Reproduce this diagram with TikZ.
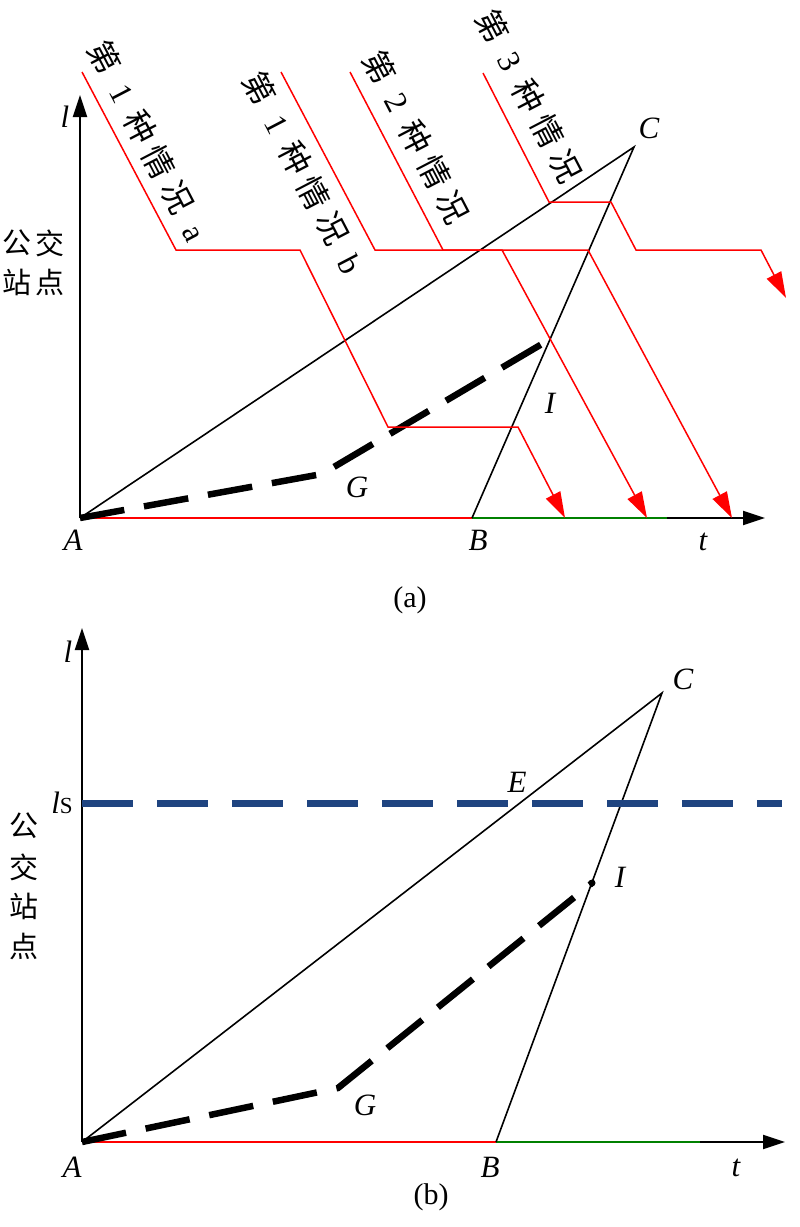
\documentclass[tikz,border=0pt]{standalone}
\usepackage{fontspec}
\setmainfont{Liberation Serif}
\newfontfamily\cjk{Noto Sans CJK SC}
\usetikzlibrary{arrows.meta}
\definecolor{navy}{RGB}{31,68,128}
\definecolor{grn}{RGB}{0,128,0}
\newcommand\cbx[1]{\makebox[39.5pt]{#1}}
\tikzset{
  axis/.style={line width=2pt,-{Triangle[length=22pt,width=14pt]}},
  thin/.style={line width=1.6pt,black},
  redl/.style={line width=1.5pt,red},
  redarr/.style={redl,-{Triangle[length=26pt,width=16pt]}},
  dashblk/.style={line width=6.5pt,dash pattern=on 45pt off 20pt},
  bluedash/.style={line width=7pt,navy,dash pattern=on 51pt off 24pt},
  lbl/.style={font=\fontsize{31}{31}\selectfont\itshape,inner sep=0pt},
  figcap/.style={font=\fontsize{30}{30}\selectfont,inner sep=0pt},
  cjkl/.style={font=\cjk\fontsize{29}{29}\selectfont,inner sep=0pt},
  rlab/.style={font=\fontsize{32}{32}\selectfont,inner sep=0pt,rotate=-62.5}
}
\begin{document}
\begin{tikzpicture}[x=1pt,y=-1pt]
\useasboundingbox (0,0) rectangle (800,1227);
% ---------------- (a) ----------------
\coordinate (Aa) at (80,518);
\coordinate (Ba) at (472,518);
\coordinate (Ca) at (634,147);
\coordinate (Ga) at (322,474);
\coordinate (Ia) at (547,341);
\coordinate (Ya) at (80,95);
\coordinate (Xa) at (765,518);
\coordinate (Ea) at (667,518);
\draw[axis] (Aa) -- (Ya);
\draw[axis] (Aa) -- (Xa);
\draw[line width=2pt,red] (Aa) -- (Ba);
\draw[line width=2pt,grn] (Ba) -- (Ea);
\draw[thin] (Aa) -- (Ca) -- (Ba);
\draw[dashblk] (Aa) -- (Ga) -- (Ia);
% red paths
\draw[redarr] (82,72) -- (176,250) -- (300,250) -- (388,427) -- (518,427) -- (565,518);
\draw[redarr] (281,72) -- (375,250) -- (502,250) -- (647,518);
\draw[redarr] (350,72) -- (443,250) -- (588,250) -- (732,518);
\draw[redarr] (483,73) -- (549,202) -- (611,202) -- (636,250) -- (761,250) -- (786,298);
% rotated labels
\node[rlab] (r1a) at (150,145) {\cbx{\cjk 第}\cbx{1}\cbx{\cjk 种}\cbx{\cjk 情}\cbx{\cjk 况}\cbx{a}};
\node[rlab] (r1b) at (305,176) {\cbx{\cjk 第}\cbx{1}\cbx{\cjk 种}\cbx{\cjk 情}\cbx{\cjk 况}\cbx{b}};
\node[rlab] (r2) at (416,137) {\cbx{\cjk 第}\cbx{2}\cbx{\cjk 种}\cbx{\cjk 情}\cbx{\cjk 况}};
\node[rlab] (r3) at (529,96) {\cbx{\cjk 第}\cbx{3}\cbx{\cjk 种}\cbx{\cjk 情}\cbx{\cjk 况}};
% labels
\node[lbl] (la) at (65,117) {l};
\node[lbl] (Al) at (73,540) {A};
\node[lbl] (Bl) at (478,540) {B};
\node[lbl] (tl) at (703,542) {t};
\node[lbl] (Cl) at (649,128) {C};
\node[lbl] (Gl) at (357,487) {G};
\node[lbl] (Il) at (550,403) {I};
\node[cjkl] (s1) at (17,243) {公};
\node[cjkl] (s2) at (50,243) {交};
\node[cjkl] (s3) at (17,282) {站};
\node[cjkl] (s4) at (50,282) {点};
\node[figcap] (capa) at (410,600) {(a)};
% ---------------- (b) ----------------
\coordinate (Ab) at (82,1142);
\coordinate (Bb) at (496,1142);
\coordinate (Cb) at (662,693);
\coordinate (Gb) at (338,1088);
\coordinate (Ib) at (592,883);
\coordinate (Yb) at (82,628);
\coordinate (Xb) at (785,1142);
\coordinate (Eb) at (700,1142);
\coordinate (L0) at (82,803);
\coordinate (L1) at (782,803);
\draw[axis] (Ab) -- (Yb);
\draw[axis] (Ab) -- (Xb);
\draw[line width=2pt,red] (Ab) -- (Bb);
\draw[line width=2pt,grn] (Bb) -- (Eb);
\draw[thin] (Ab) -- (Cb) -- (Bb);
\draw[bluedash] (L0) -- (L1);
\draw[dashblk] (Ab) -- (Gb) -- (Ib);
\fill (Ib) circle (3.5pt);
\node[lbl] (lb) at (68,652) {l};
\node[lbl] (lsl) at (62,803) {l\textup{\fontsize{23}{23}\selectfont S}};
\node[lbl] (Ab2) at (72,1167) {A};
\node[lbl] (Bb2) at (490,1167) {B};
\node[lbl] (tb) at (736,1168) {t};
\node[lbl] (Cb2) at (683,679) {C};
\node[lbl] (Ebl) at (517,782) {E};
\node[lbl] (Gb2) at (365,1105) {G};
\node[lbl] (Ib2) at (620,877) {I};
\node[cjkl] (v1) at (24,826) {公};
\node[cjkl] (v2) at (24,867) {交};
\node[cjkl] (v3) at (24,906) {站};
\node[cjkl] (v4) at (24,946) {点};
\node[figcap] (capb) at (431,1197) {(b)};
\end{tikzpicture}
\end{document}
